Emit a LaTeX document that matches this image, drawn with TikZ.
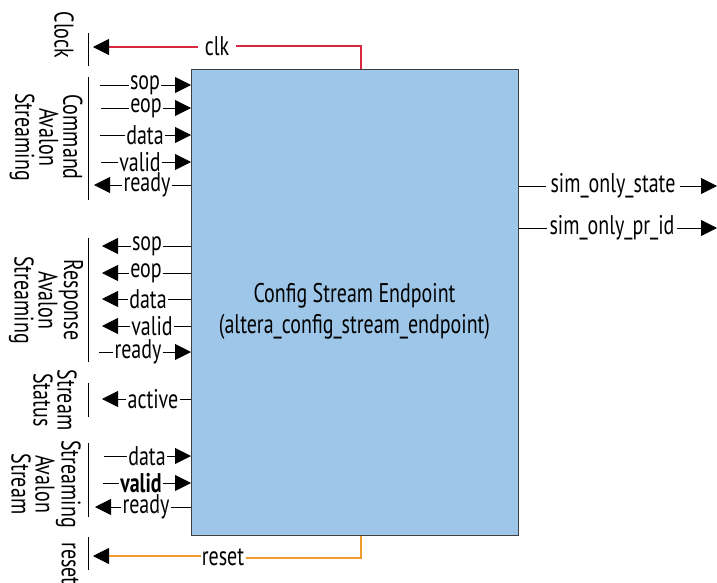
\documentclass[tikz,border=0pt]{standalone}
\usepackage{fontspec}
\setmainfont[FakeStretch=0.74]{PT Sans}
\usetikzlibrary{arrows.meta,calc}
\definecolor{boxblue}{HTML}{9DC6E8}
\definecolor{clkred}{HTML}{D8283F}
\definecolor{rstorange}{HTML}{F39A2E}
\definecolor{boxline}{HTML}{404040}
\begin{document}
\begin{tikzpicture}[x=1pt,y=-1pt,
  sig/.style={line width=0.8pt, draw=black},
  tipr/.style={-{Triangle[length=16pt,width=16pt]}},
  lbl/.style={inner xsep=1pt, inner ysep=0pt, font=\fontsize{27}{28}\selectfont},
  grp/.style={rotate=-90, align=center, font=\fontsize{27}{24}\selectfont, inner sep=0pt},
  bar/.style={line width=1pt, draw=black},
  clkline/.style={line width=1.5pt, draw=clkred},
  rstline/.style={line width=1.5pt, draw=rstorange}]
\useasboundingbox (0,0) rectangle (717,582);

% clock and reset wires (drawn first)
\coordinate (clkA) at (361,69);
\coordinate (clkR) at (236,46);
\coordinate (clkL) at (198,47);
\coordinate (clkH) at (108,47);
\coordinate (clkT) at (93,47);
\draw[clkline] (clkA) |- (clkR);
\draw[clkline] (clkL) -- (clkH);
\coordinate (rstA) at (361,535);
\coordinate (rstR) at (246,558);
\coordinate (rstL) at (201,556);
\coordinate (rstH) at (108,556);
\coordinate (rstT) at (93,556);
\draw[rstline] (rstA) |- (rstR);
\draw[rstline] (rstL) -- (rstH);
\draw[sig, tipr] (clkH) -- (clkT);
\draw[sig, tipr] (rstH) -- (rstT);

% main block
\node[draw=boxline, line width=1pt, fill=boxblue, minimum width=327pt, minimum height=466pt, anchor=north west, inner sep=0pt] (box) at (191,69) {};
\node[align=center, font=\fontsize{27}{31}\selectfont] (title) at (354.5,311) {Config Stream Endpoint\\(altera\_config\_stream\_endpoint)};

% group bars
\draw[bar] (88,33) -- (88,66);
\draw[bar] (88,77) -- (88,200);
\draw[bar] (88,238) -- (88,362);
\draw[bar] (88,383) -- (88,417);
\draw[bar] (88,443) -- (88,517);
\draw[bar] (88,537) -- (88,570);

% group labels
\node[grp] (gclk) at (64,35) {Clock};
\node[grp] (gcmd) at (46,137) {Command\\Avalon\\Streaming};
\node[grp] (grsp) at (46,300) {Response\\Avalon\\Streaming};
\node[grp] (gsts) at (55,400) {Stream\\Status};
\node[grp] (gstr) at (46,484) {Streaming\\Avalon\\Stream};
\node[grp, anchor=west] (grst) at (70,542) {reset};

\node[lbl] (lclk) at (217,46) {clk};
\node[lbl] (lrst) at (223,557) {reset};

% command avalon streaming
\node[lbl] (lc1) at (145,85) {sop};
\node[lbl] (lc2) at (146,108) {eop};
\node[lbl] (lc3) at (145,135) {data};
\node[lbl] (lc4) at (140,162) {valid};
\node[lbl] (lc5) at (147,185) {ready};
\coordinate (c1) at (100,85);
\coordinate (c2) at (101,108);
\coordinate (c3) at (100,135);
\coordinate (c4) at (101,162);
\coordinate (c5) at (94,185);
\draw[sig] (c1) -- (lc1.west |- c1);
\draw[sig,tipr] (lc1.east |- c1) -- (box.west |- c1);
\draw[sig] (c2) -- (lc2.west |- c2);
\draw[sig,tipr] (lc2.east |- c2) -- (box.west |- c2);
\draw[sig] (c3) -- (lc3.west |- c3);
\draw[sig,tipr] (lc3.east |- c3) -- (box.west |- c3);
\draw[sig] (c4) -- (lc4.west |- c4);
\draw[sig,tipr] (lc4.east |- c4) -- (box.west |- c4);
\draw[sig] (box.west |- c5) -- (lc5.east |- c5);
\draw[sig,tipr] (lc5.west |- c5) -- (c5);

% response avalon streaming
\node[lbl] (lr1) at (147,246) {sop};
\node[lbl] (lr2) at (146,273) {eop};
\node[lbl] (lr3) at (148,299) {data};
\node[lbl] (lr4) at (152,326) {valid};
\node[lbl] (lr5) at (138,352) {ready};
\coordinate (r1) at (102,246);
\coordinate (r2) at (102,273);
\coordinate (r3) at (102,299);
\coordinate (r4) at (102,326);
\coordinate (r5) at (99,352);
\draw[sig] (box.west |- r1) -- (lr1.east |- r1);
\draw[sig,tipr] (lr1.west |- r1) -- (r1);
\draw[sig] (box.west |- r2) -- (lr2.east |- r2);
\draw[sig,tipr] (lr2.west |- r2) -- (r2);
\draw[sig] (box.west |- r3) -- (lr3.east |- r3);
\draw[sig,tipr] (lr3.west |- r3) -- (r3);
\draw[sig] (box.west |- r4) -- (lr4.east |- r4);
\draw[sig,tipr] (lr4.west |- r4) -- (r4);
\draw[sig] (r5) -- (lr5.west |- r5);
\draw[sig,tipr] (lr5.east |- r5) -- (box.west |- r5);

% stream status
\node[lbl] (la1) at (153,399) {active};
\coordinate (a1) at (102,399);
\draw[sig] (box.west |- a1) -- (la1.east |- a1);
\draw[sig,tipr] (la1.west |- a1) -- (a1);

% avalon stream
\node[lbl] (lt1) at (147,456) {data};
\node[lbl, font=\fontsize{27}{28}\selectfont\bfseries] (lt2) at (141,483) {valid};
\node[lbl] (lt3) at (146,507) {ready};
\coordinate (t1) at (104,456);
\coordinate (t2) at (103,483);
\coordinate (t3) at (95,507);
\draw[sig] (t1) -- (lt1.west |- t1);
\draw[sig,tipr] (lt1.east |- t1) -- (box.west |- t1);
\draw[sig] (t2) -- (lt2.west |- t2);
\draw[sig,tipr] (lt2.east |- t2) -- (box.west |- t2);
\draw[sig] (box.west |- t3) -- (lt3.east |- t3);
\draw[sig,tipr] (lt3.west |- t3) -- (t3);

% outputs
\node[lbl, inner xsep=4pt] (lo1) at (613,186) {sim\_only\_state};
\node[lbl, inner xsep=2pt] (lo2) at (612,228) {sim\_only\_pr\_id};
\coordinate (o1) at (717,186);
\coordinate (o2) at (717,228);
\draw[sig] (box.east |- o1) -- (lo1.west |- o1);
\draw[sig,tipr] (lo1.east |- o1) -- (o1);
\draw[sig] (box.east |- o2) -- (lo2.west |- o2);
\draw[sig,tipr] (lo2.east |- o2) -- (o2);
\end{tikzpicture}
\end{document}
